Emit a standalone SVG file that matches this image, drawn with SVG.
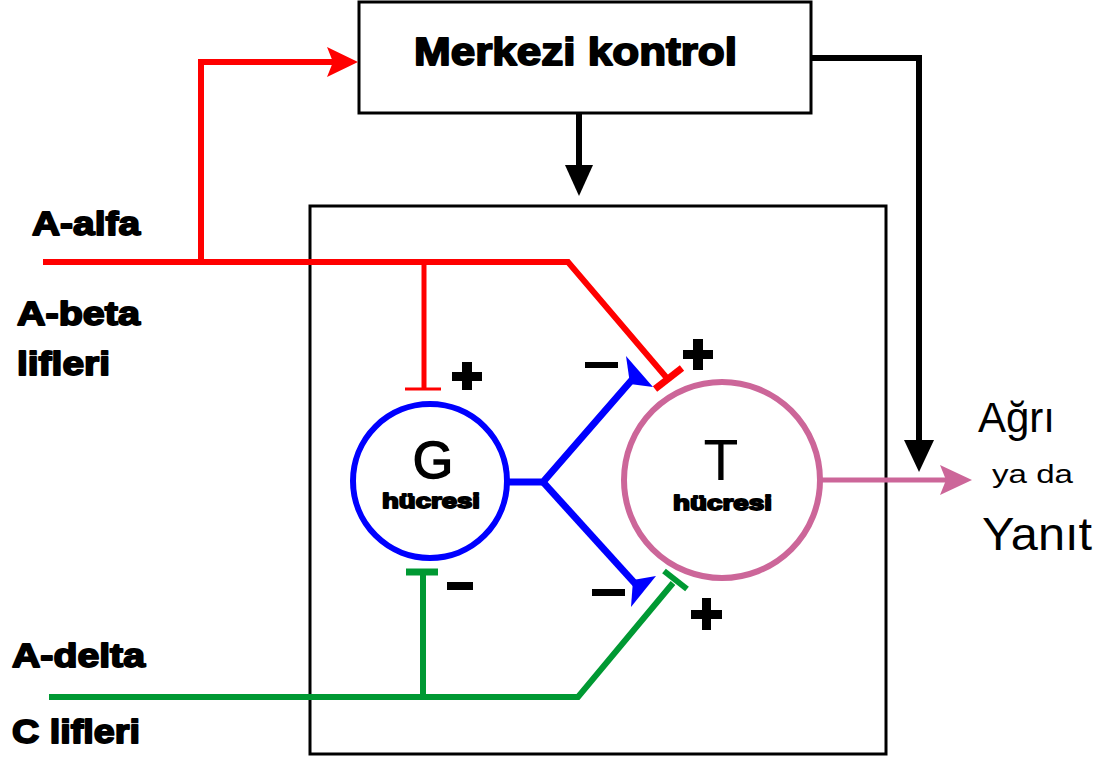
<svg xmlns="http://www.w3.org/2000/svg" width="1110" height="762" viewBox="0 0 1110 762">
<style>
.lbl{font-family:"Liberation Sans",Arial,sans-serif;font-weight:bold;fill:#000;stroke:#000;stroke-width:1.8;stroke-linejoin:round}
.thin{font-family:"Liberation Sans",Arial,sans-serif;fill:#000}
.box{fill:#fff;stroke:#000;stroke-width:3}
.red{stroke:#ff0000;fill:none}
.blue{stroke:#0000ff;fill:none}
.green{stroke:#009933;fill:none}
.pink{stroke:#cc6699;fill:none}
.blk{stroke:#000;fill:none}
</style>
<rect width="1110" height="762" fill="#fff"/>

<g id="central">
<rect class="box" x="359" y="2" width="452" height="111"/>
<text class="lbl" x="414" y="65" font-size="38" textLength="323" lengthAdjust="spacingAndGlyphs">Merkezi kontrol</text>
</g>

<g id="gate">
<rect class="box" x="310" y="206" width="576" height="548" fill="none"/>
</g>

<g id="connectors">
<!-- red A-alfa / A-beta -->
<polyline class="red" stroke-width="6" points="43,262 568,262 666,377"/>
<polyline class="red" stroke-width="6" points="201,262 201,62 335,62"/>
<polygon fill="#ff0000" points="327,47 358,62 327,77 333,62"/>
<line class="red" stroke-width="5" x1="424" y1="262" x2="424" y2="389"/>
<line class="red" stroke-width="3" x1="405" y1="389" x2="441" y2="389"/>
<line class="red" stroke-width="7" x1="655" y1="389" x2="682" y2="368"/>
<!-- green A-delta / C -->
<polyline class="green" stroke-width="6" points="49,697 578,697 673,583"/>
<line class="green" stroke-width="6" x1="423" y1="697" x2="423" y2="572"/>
<line class="green" stroke-width="7" x1="406" y1="572" x2="438" y2="572"/>
<line class="green" stroke-width="6" x1="664" y1="571" x2="687" y2="589"/>
<!-- blue from G -->
<polyline class="blue" stroke-width="7" points="506,482 543,482 637,374"/>
<polyline class="blue" stroke-width="7" points="543,482 640,589"/>
<polygon fill="#0000ff" points="626,356 653,387 630,384"/>
<polygon fill="#0000ff" points="656,576 631,607 633,580"/>
<!-- central control arrows -->
<line class="blk" stroke-width="6" x1="579" y1="113" x2="579" y2="172"/>
<polygon fill="#000" points="565,165 593,165 579,196"/>
<polyline class="blk" stroke-width="6" points="811,58 919,58 919,448"/>
<polygon fill="#000" points="904,440 934,440 919,472"/>
<!-- output -->
<line class="pink" stroke-width="5" x1="822" y1="480" x2="948" y2="480"/>
<polygon fill="#cc6699" points="940,465 972,480 940,495 946,480"/>
</g>

<g id="g-cell">
<circle class="blue" stroke-width="6" cx="430" cy="481" r="77"/>
<text class="thin" x="433" y="478" font-size="52" text-anchor="middle" stroke="#000" stroke-width="1.5">G</text>
<text class="lbl" x="382" y="508" font-size="21" textLength="98" lengthAdjust="spacingAndGlyphs">hücresi</text>
</g>

<g id="t-cell">
<circle class="pink" stroke-width="6" cx="722" cy="480" r="98"/>
<text class="thin" x="721" y="480" font-size="57" text-anchor="middle">T</text>
<text class="lbl" x="673" y="510" font-size="21" textLength="99" lengthAdjust="spacingAndGlyphs">hücresi</text>
</g>

<g id="signs" fill="#000">
<rect x="452" y="372" width="30" height="9"/><rect x="462" y="362" width="10" height="28"/>
<rect x="683" y="350" width="30" height="9"/><rect x="693" y="339" width="10" height="31"/>
<rect x="691" y="610" width="31" height="9"/><rect x="702" y="598" width="9" height="32"/>
<rect x="585" y="362" width="33" height="6"/>
<rect x="592" y="589" width="33" height="7"/>
<rect x="447" y="582" width="26" height="8"/>
</g>

<g id="labels">
<text class="lbl" x="32" y="235" font-size="34" textLength="108" lengthAdjust="spacingAndGlyphs">A-alfa</text>
<text class="lbl" x="17" y="325" font-size="33" textLength="123" lengthAdjust="spacingAndGlyphs">A-beta</text>
<text class="lbl" x="17" y="375" font-size="33" textLength="93" lengthAdjust="spacingAndGlyphs">lifleri</text>
<text class="lbl" x="12" y="667" font-size="33" textLength="133" lengthAdjust="spacingAndGlyphs">A-delta</text>
<text class="lbl" x="12" y="743" font-size="33" textLength="128" lengthAdjust="spacingAndGlyphs">C lifleri</text>
<text class="thin" x="978" y="432" font-size="42" textLength="77" lengthAdjust="spacingAndGlyphs">Ağrı</text>
<text class="thin" x="992" y="483" font-size="26" textLength="81" lengthAdjust="spacingAndGlyphs">ya da</text>
<text class="thin" x="982" y="550" font-size="46" textLength="110" lengthAdjust="spacingAndGlyphs">Yanıt</text>
</g>
</svg>
